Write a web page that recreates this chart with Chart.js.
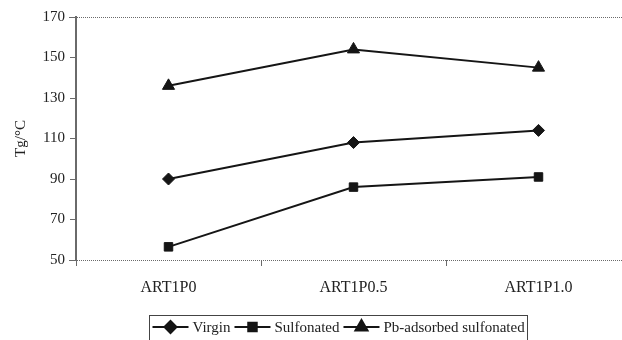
<!DOCTYPE html>
<html>
<head>
<meta charset="utf-8">
<script src="https://cdn.jsdelivr.net/npm/chart.js@4/dist/chart.umd.min.js"></script>
<style>
  html, body { margin: 0; padding: 0; background: #fff; overflow: hidden; }
  #wrap { position: relative; width: 640px; height: 340px; }
</style>
</head>
<body>
<div id="wrap"><canvas id="c"></canvas></div>
<script>
// Glass transition temperature per sample
const categories = ['ART1P0', 'ART1P0.5', 'ART1P1.0'];
const virgin = [90, 108, 114];
const sulfonated = [56.5, 86, 91];
const pbAdsorbed = [136, 154, 145];
const yTicks = [50, 70, 90, 110, 130, 150, 170];

const SERIF = '"Liberation Serif", "DejaVu Serif", serif';
const INK = '#151515';
const AXIS = '#6a6a6a';

function series(label, data, style, radius) {
  return {
    label, data,
    borderColor: INK, backgroundColor: INK,
    borderWidth: 2, pointStyle: style,
    pointRadius: radius, pointHoverRadius: radius,
    pointBorderWidth: 1, tension: 0
  };
}

// dotted frame lines at the top and bottom of the value range
const frameLines = {
  id: 'frameLines',
  afterDraw(chart) {
    const { ctx, chartArea, scales } = chart;
    ctx.save();
    ctx.strokeStyle = AXIS;
    ctx.lineWidth = 1;
    ctx.setLineDash([1, 1]);
    [yTicks[0], yTicks[yTicks.length - 1]].forEach(v => {
      const y = Math.round(scales.y.getPixelForValue(v)) + 0.5;
      ctx.beginPath();
      ctx.moveTo(chartArea.left - 7, y);
      ctx.lineTo(chartArea.right, y);
      ctx.stroke();
    });
    ctx.restore();
  }
};

// boxed legend with line-through-marker samples
const boxLegend = {
  id: 'boxLegend',
  afterDraw(chart) {
    const { ctx } = chart;
    ctx.save();
    ctx.font = '15px ' + SERIF;
    const sample = 36, gapA = 4, gapB = 4, padX = 3;
    const items = chart.data.datasets.map(ds => ({ ds, w: ctx.measureText(ds.label).width }));
    let total = padX * 2;
    items.forEach((it, i) => { total += sample + gapA + it.w + (i < items.length - 1 ? gapB : 0); });
    const cx = 338, top = 315.5, h = 32, midY = 327;
    let x = Math.round(cx - total / 2) + 0.5;
    ctx.strokeStyle = '#444';
    ctx.lineWidth = 1;
    ctx.strokeRect(x, top, Math.round(total), h);
    x += padX;
    items.forEach((it, i) => {
      ctx.strokeStyle = INK;
      ctx.fillStyle = INK;
      ctx.lineWidth = 2;
      ctx.beginPath();
      ctx.moveTo(x, midY);
      ctx.lineTo(x + sample, midY);
      ctx.stroke();
      Chart.helpers.drawPoint(ctx, {
        pointStyle: it.ds.pointStyle, radius: it.ds.pointRadius, borderWidth: 1
      }, x + sample / 2, midY);
      ctx.fill();
      x += sample + gapA;
      ctx.fillStyle = '#222';
      ctx.textBaseline = 'middle';
      ctx.fillText(it.ds.label, x, midY + 1);
      x += it.w + gapB;
    });
    ctx.restore();
  }
};

new Chart(document.getElementById('c'), {
  type: 'line',
  data: {
    labels: categories,
    datasets: [
      series('Virgin', virgin, 'rectRot', 6),
      series('Sulfonated', sulfonated, 'rect', 6),
      series('Pb-adsorbed sulfonated', pbAdsorbed, 'triangle', 7)
    ]
  },
  options: {
    responsive: true,
    maintainAspectRatio: false,
    animation: false,
    layout: { padding: { top: 17, right: 9, left: 0, bottom: 0 } },
    plugins: { legend: { display: false }, tooltip: { enabled: false } },
    scales: {
      x: {
        offset: true,
        border: { display: false },
        grid: { drawOnChartArea: false, offset: true, tickLength: 6, tickColor: AXIS, tickWidth: 1 },
        ticks: { color: '#222', font: { family: SERIF, size: 16 }, padding: 12, maxRotation: 0 },
        afterFit(s) { s.height = 80; }
      },
      y: {
        min: 50, max: 170,
        afterBuildTicks(s) { s.ticks = yTicks.map(v => ({ value: v })); },
        border: { display: true, color: AXIS, width: 2 },
        grid: { drawOnChartArea: false, tickLength: 6, tickColor: AXIS, tickWidth: 1 },
        ticks: { color: '#222', font: { family: SERIF, size: 15 }, padding: 5 },
        title: { display: true, text: 'Tg/°C', color: '#222', font: { family: SERIF, size: 15 }, padding: { top: 12, bottom: 0 } },
        afterFit(s) { s.width = 76; }
      }
    }
  },
  plugins: [frameLines, boxLegend]
});
</script>
</body>
</html>
